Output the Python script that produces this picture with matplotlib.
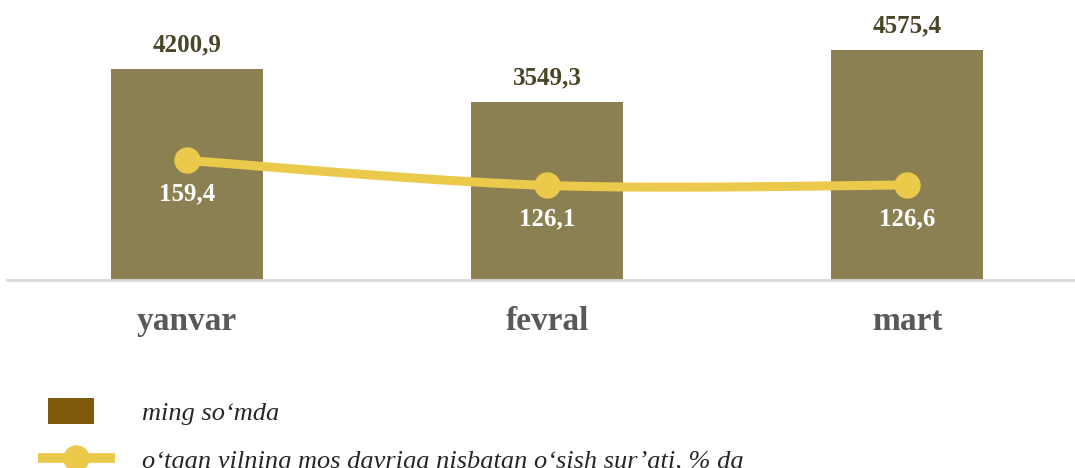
import numpy as np
import matplotlib.pyplot as plt
from matplotlib.patches import Patch, Rectangle
from matplotlib.lines import Line2D
from matplotlib.legend_handler import HandlerPatch

months = ["yanvar", "fevral", "mart"]
amount = [4200.9, 3549.3, 4575.4]          # ming so'mda
growth = [159.4, 126.1, 126.6]             # o'sish sur'ati, %

bar_color = "#8b8052"
line_color = "#ebc94a"
legend_bar_color = "#7f5a0a"

plt.rcParams["font.family"] = ["Liberation Serif", "DejaVu Serif"]

fig = plt.figure(figsize=(10.75, 4.68), dpi=100)
ax = fig.add_axes([7 / 1075, 188 / 468, 1080 / 1075, 262 / 468])
x = np.arange(len(months))

ax.bar(x, amount, width=0.42, color=bar_color, zorder=2)
ax.set_xlim(-0.5, 2.5)
ax.set_ylim(0, 262 / 0.0502)
for xi, v in zip(x, amount):
    ax.text(xi, v + 250, f"{v:.1f}".replace(".", ","), ha="center", va="bottom",
            fontsize=18, fontweight="bold", color="#4a4528")

ax.set_xticks(x)
ax.set_xticklabels(months, fontsize=24, fontweight="bold", color="#595959")
ax.tick_params(axis="x", length=0, pad=19)
ax.set_yticks([])
for s in ["top", "right", "left"]:
    ax.spines[s].set_visible(False)
ax.spines["bottom"].set_color("#d9d9d9")
ax.spines["bottom"].set_linewidth(2)

# secondary axis for growth rate
ax2 = ax.twinx()
ax2.set_ylim(0, 262 / 0.75)
ax2.set_yticks([])
for s in ax2.spines.values():
    s.set_visible(False)

# smoothed line (Catmull-Rom like Excel)
px = x.astype(float)
py = np.array(growth, dtype=float)
pts = np.column_stack([px, py])
ext = np.vstack([pts[0], pts, pts[-1]])
curve = []
t = np.linspace(0, 1, 60)
for i in range(1, len(ext) - 2):
    p0, p1, p2, p3 = ext[i - 1], ext[i], ext[i + 1], ext[i + 2]
    c1 = p1 + (p2 - p0) / 6
    c2 = p2 - (p3 - p1) / 6
    seg = ((1 - t) ** 3)[:, None] * p1 + (3 * (1 - t) ** 2 * t)[:, None] * c1 \
        + (3 * (1 - t) * t ** 2)[:, None] * c2 + (t ** 3)[:, None] * p2
    curve.append(seg)
curve = np.vstack(curve)
ax2.plot(curve[:, 0], curve[:, 1], color=line_color, lw=6.5, solid_capstyle="round", zorder=3)
ax2.plot(px, py, "o", color=line_color, ms=18, zorder=4)
for xi, v in zip(px, py):
    ax2.text(xi, v - 45, f"{v:.1f}".replace(".", ","), ha="center", va="center",
             fontsize=18, fontweight="bold", color="white", zorder=5)


def small_square(legend, orig_handle, xdescent, ydescent, width, height, fontsize):
    w = width * 0.6
    return Rectangle((-xdescent + (width - w) / 2 - 4, -ydescent - 1), w, height + 2)


handles = [
    Patch(facecolor=legend_bar_color, edgecolor="none"),
    Line2D([0], [0], color=line_color, lw=7, marker="o", ms=18, solid_capstyle="butt"),
]
labels = ["ming so\u2018mda", "o\u2018tgan yilning mos davriga nisbatan o\u2018sish sur\u2019ati, % da"]
fig.legend(handles, labels, loc="upper left", bbox_to_anchor=(38 / 1075, 1 - 399 / 468),
           frameon=False, borderpad=0, borderaxespad=0,
           handlelength=2.9, handleheight=1.0, handletextpad=1.05,
           labelspacing=0.85, prop={"style": "italic", "size": 19}, labelcolor="#262626",
           handler_map={Patch: HandlerPatch(patch_func=small_square)})

fig.savefig("out.png", dpi=100)
